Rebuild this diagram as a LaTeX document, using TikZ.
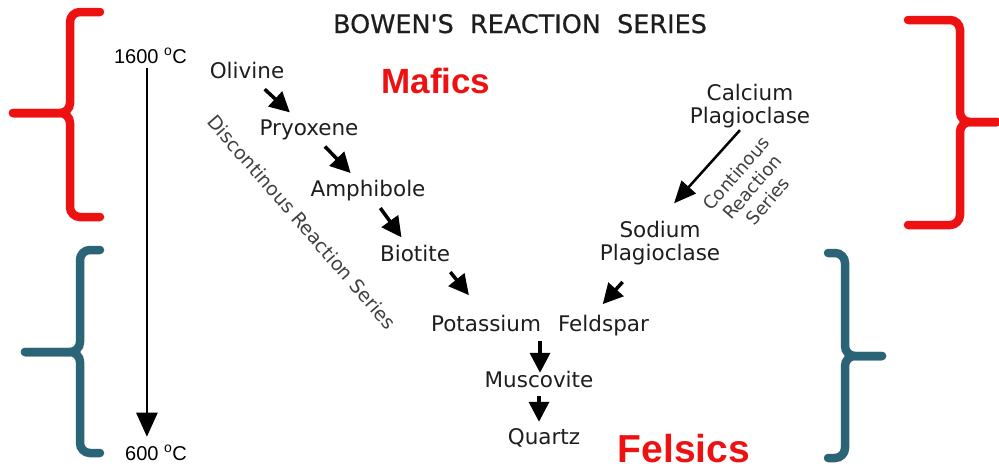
\documentclass[tikz,border=0pt]{standalone}
\usepackage{fontspec}
\setmainfont{DejaVu Sans}
\newfontfamily\arialfont{Liberation Sans}
\newfontfamily\titlefont[FakeBold=0.6]{DejaVu Sans}
\usetikzlibrary{arrows.meta}
\definecolor{bowenRed}{HTML}{EE1111}
\definecolor{bowenTeal}{HTML}{2B6476}
\definecolor{bowenInk}{HTML}{1E1E1E}

\begin{document}
\begin{tikzpicture}[
    x=1pt, y=-1pt,
    mineral/.style={font=\fontsize{21.5}{24}\selectfont, text=bowenInk,
      inner sep=2pt, text height=15pt, text depth=5pt},
    pair/.style={font=\fontsize{21.5}{23}\selectfont, text=bowenInk,
      inner sep=2pt, align=center},
    temp/.style={font=\arialfont\fontsize{20}{24}\selectfont, inner sep=1pt, anchor=base east},
    group/.style={font=\arialfont\bfseries\fontsize{#1}{#1}\selectfont, text=bowenRed,
      inner sep=0pt, anchor=base},
    series/.style={text=bowenInk!85, align=center, inner sep=0pt},
    arr/.style={-{Triangle[length=20pt,width=20pt]}, line width=3.5pt,
      shorten <=6pt, shorten >=8pt},
    brace/.style={line width=8.5pt, line cap=round, rounded corners=10pt}]
  \fill[white] (0,0) rectangle (999,471);
  \useasboundingbox (0,0) rectangle (999,471);

  % braces
  \draw[brace, bowenRed] (100,12) -- (70,12) -- (70,113) -- (13,113);
  \draw[brace, bowenRed] (100,217) -- (70,217) -- (70,113) -- (13,113);
  \draw[brace, bowenRed] (908,20) -- (960,20) -- (960,122) -- (997,122);
  \draw[brace, bowenRed] (908,225) -- (960,225) -- (960,122) -- (997,122);
  \draw[brace, bowenTeal] (100,250) -- (80,250) -- (80,352) -- (25,352);
  \draw[brace, bowenTeal] (100,453) -- (80,453) -- (80,352) -- (25,352);
  \draw[brace, bowenTeal] (828,253) -- (845,253) -- (845,356) -- (882,356);
  \draw[brace, bowenTeal] (828,458) -- (845,458) -- (845,356) -- (882,356);

  % title and temperature scale
  \node[font=\titlefont\fontsize{25.5}{28}\selectfont, text=bowenInk, anchor=base] (title)
    at (520,33) {BOWEN'S\ \ REACTION\ \ SERIES};
  \node[temp] (hot) at (188,63) {1600 \textsuperscript{o}C};
  \node[temp] (cold) at (188,460) {600 \textsuperscript{o}C};
  \draw[-{Triangle[length=24pt,width=21pt]}, line width=2.5pt, shorten <=4pt, shorten >=7pt]
    ([xshift=-3.5pt]hot.south) -- ([xshift=-3.5pt]hot.south |- cold.north);

  \node[group=35] (mafic) at (436,93) {Mafics};
  \node[group=39] (felsic) at (684,462) {Felsics};

  % discontinuous series
  \node[mineral] (ol) at (247,73) {Olivine};
  \node[mineral] (py) at (309,130) {Pryoxene};
  \node[mineral] (am) at (368,191) {Amphibole};
  \node[mineral] (bi) at (415,256) {Biotite};
  \node[mineral] (kf) at (540,326) {Potassium\hspace{17pt}Feldspar};
  \node[mineral] (mu) at (539,382) {Muscovite};
  \node[mineral] (qz) at (544,439) {Quartz};
  \draw[arr] (ol) -- (py);
  \draw[arr] (py) -- (am);
  \draw[arr] (am) -- (bi);
  \draw[arr, shorten <=5pt, shorten >=24pt] ([xshift=-5pt]bi.south east) -- ([xshift=-56pt]kf.north);
  \draw[arr, shorten <=3pt, shorten >=-3pt] (kf.south) -- (kf.south |- mu.north);
  \draw[arr, shorten <=2pt, shorten >=5pt] (mu.south) -- (mu.south |- qz.north);

  % continuous series
  \node[pair] (ca) at (750,106) {Calcium\\Plagioclase};
  \node[pair] (na) at (660,243) {Sodium\\Plagioclase};
  \draw[-{Triangle[length=22pt,width=19pt]}, line width=2.5pt, shorten <=0pt, shorten >=21pt]
    ([xshift=-10pt]ca.south) -- (na.north);
  \draw[arr, shorten <=20pt, shorten >=13pt] ([xshift=-24pt]na.south) -- ([xshift=54pt]kf.north);

  \node[series, font=\fontsize{19}{22}\selectfont, rotate=-49] (disc)
    at (302,222) {Discontinous Reaction Series};
  \node[series, font=\fontsize{18}{21}\selectfont, rotate=49] (cont)
    at (752,187) {Continous\\Reaction\\Series};
\end{tikzpicture}
\end{document}
